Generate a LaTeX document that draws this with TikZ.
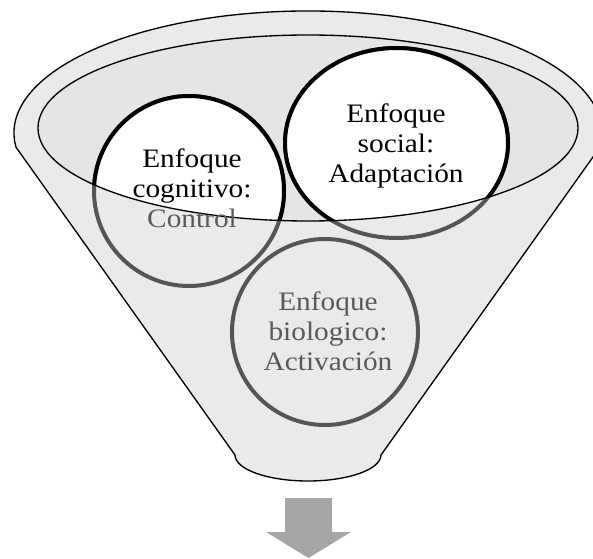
\documentclass[tikz,border=0pt]{standalone}
\usepackage{fontspec}
\setmainfont{Liberation Serif}[FakeStretch=1.1]
\definecolor{funnelfill}{RGB}{234,234,234}
\definecolor{innerfill}{RGB}{229,229,229}
\definecolor{ringgray}{RGB}{85,85,85}
\definecolor{textgray}{RGB}{89,89,89}
\definecolor{arrowgray}{RGB}{166,166,166}
\begin{document}
\begin{tikzpicture}[x=0.75pt,y=0.75pt,
  funnelline/.style={draw=black, line width=1pt},
  ringgrey/.style={draw=ringgray, line width=3pt},
  ringblack/.style={draw=black, line width=3pt, fill=white},
  lbl/.style={align=center, font=\fontsize{20}{22.5}\selectfont, inner sep=0pt}]
\clip (0,0) rectangle (593,558);
% funnel body
\path[funnelline, fill=funnelfill] (16,410.8)
  arc[start angle=186.7, end angle=-6.7, x radius=294, y radius=122]
  -- (381,103)
  arc[start angle=0, end angle=-180, x radius=73, y radius=26]
  -- cycle;
% inner ellipse fill
\path[fill=innerfill] (308,430) ellipse [x radius=270, y radius=93];
% grey rings (parts outside the inner ellipse)
\draw[ringgrey] (189,367) circle [radius=95];
\draw[ringgrey] (396.5,415) ellipse [x radius=111.5, y radius=95];
\draw[ringgrey] (325,226) circle [radius=93];
% white / black parts inside the inner ellipse
\begin{scope}
  \clip (308,430) ellipse [x radius=270, y radius=93];
  \draw[ringblack] (189,367) circle [radius=95];
  \draw[ringblack] (396.5,415) ellipse [x radius=111.5, y radius=95];
\end{scope}
% inner ellipse outline
\draw[funnelline] (308,430) ellipse [x radius=270, y radius=93];
% texts
\node[lbl] (cogtext) at (192,369.4) {Enfoque\\cognitivo:\\\textcolor{textgray}{Control}};
\node[lbl] (soctext) at (396,412.3) {Enfoque\\social:\\Adaptación};
\node[lbl, text=textgray] (biotext) at (328,226.3) {Enfoque\\biologico:\\Activación};
% down arrow
\fill[arrowgray] (285,60) -- (332,60) -- (332,26) -- (351,26) -- (308.5,0)
  -- (266,26) -- (285,26) -- cycle;
\end{tikzpicture}
\end{document}
